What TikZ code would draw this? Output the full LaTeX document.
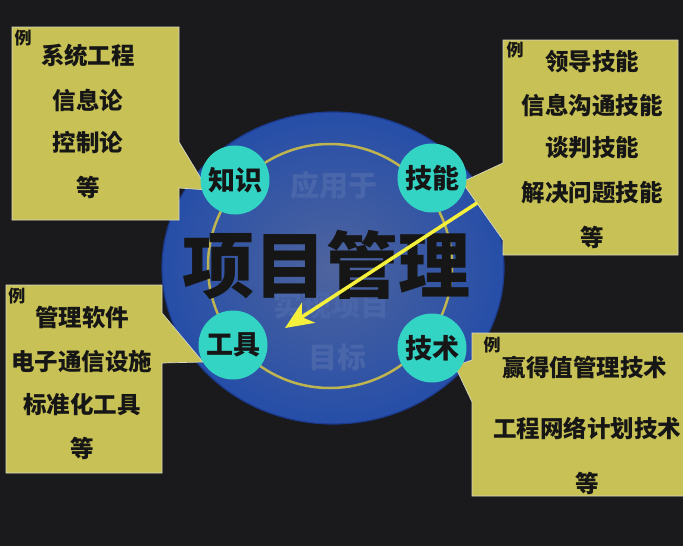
\documentclass[tikz,border=0pt]{standalone}
\usepackage{fontspec}
\newfontfamily\cjk{Noto Sans CJK SC}
\usetikzlibrary{arrows.meta}
\definecolor{bgc}{RGB}{26,26,28}
\definecolor{boxc}{RGB}{200,193,85}
\definecolor{boxline}{RGB}{215,215,195}
\definecolor{cyanc}{RGB}{52,212,196}
\definecolor{ringc}{RGB}{190,180,80}
\definecolor{ellin}{RGB}{78,100,158}
\definecolor{ellout}{RGB}{38,78,168}
\definecolor{ellrim}{RGB}{28,58,140}
\definecolor{faintc}{RGB}{74,102,170}
\definecolor{txtc}{RGB}{22,22,22}
\definecolor{arrowc}{RGB}{245,240,60}
\tikzset{
  callout/.style={fill=boxc, draw=boxline, line width=0.7pt},
  boxtext/.style={font=\cjk\bfseries\fontsize{23.5}{26}\selectfont, text=txtc, inner sep=0pt},
  litext/.style={font=\cjk\bfseries\fontsize{17}{18}\selectfont, text=txtc, inner sep=0pt},
  keycircle/.style={circle, fill=cyanc, minimum size=69pt, inner sep=0pt, font=\cjk\bfseries\fontsize{27}{28}\selectfont, text=txtc},
  fainttext/.style={font=\cjk\bfseries\fontsize{29}{30}\selectfont, text=faintc, inner sep=0pt},
}
\begin{document}
\begin{tikzpicture}[x=1pt,y=-1pt]
\fill[bgc] (0,0) rectangle (683,546);
\useasboundingbox (0,0) rectangle (683,546);
% central ellipse
\shade[inner color=ellin, outer color=ellout] (333,268) ellipse [x radius=171, y radius=156];
\draw[ellrim, line width=1.2pt] (333,268) ellipse [x radius=171, y radius=156];
\draw[ringc, line width=2.5pt] (330,266) circle [radius=122];
% faint texts
\node[fainttext] (f1) at (334,185) {应用于};
\node[fainttext] (f2) at (331,305) {实现项目};
\node[fainttext] (f3) at (337,357) {目标};
% big title
\node[font=\cjk\bfseries\fontsize{72}{74}\selectfont, text=txtc, inner sep=0pt] (title) at (326,265) {项目管理};
% callouts
\draw[callout] (12,27) -- (179,27) -- (179,142) -- (208,190) -- (179,188) -- (179,220) -- (12,220) -- cycle;
\draw[callout] (503,40) -- (678,40) -- (678,255) -- (503,255) -- (503,240) -- (462,182) -- (503,163) -- cycle;
\draw[callout] (6,285) -- (162,285) -- (162,313) -- (203,362) -- (162,363) -- (162,473) -- (6,473) -- cycle;
\draw[callout] (472,333) -- (690,333) -- (690,496) -- (472,496) -- (472,402) -- (455,366) -- (472,360) -- cycle;
% callout texts
\node[litext] (l1) at (23,38) {例};
\node[boxtext] (a1) at (88,56) {系统工程};
\node[boxtext] (a2) at (88,100) {信息论};
\node[boxtext] (a3) at (88,143) {控制论};
\node[boxtext] (a4) at (88,187) {等};
\node[litext] (l2) at (515,50) {例};
\node[boxtext] (b1) at (592,62) {领导技能};
\node[boxtext] (b2) at (592,105) {信息沟通技能};
\node[boxtext] (b3) at (592,148) {谈判技能};
\node[boxtext] (b4) at (592,193) {解决问题技能};
\node[boxtext] (b5) at (592,237) {等};
\node[litext] (l3) at (17,296) {例};
\node[boxtext] (c1) at (82,317) {管理软件};
\node[boxtext] (c2) at (82,362) {电子通信设施};
\node[boxtext] (c3) at (82,405) {标准化工具};
\node[boxtext] (c4) at (82,448) {等};
\node[litext] (l4) at (492,345) {例};
\node[boxtext] (d1) at (585,367) {赢得值管理技术};
\node[boxtext] (d2) at (587,428) {工程网络计划技术};
\node[boxtext] (d3) at (587,483) {等};
% key circles
\node[keycircle] (zs) at (235,180) {知识};
\node[keycircle] (jn) at (432,178) {技能};
\node[keycircle] (gj) at (233,345) {工具};
\node[keycircle] (js) at (432,348) {技术};
% arrow
\coordinate (arrS) at (477,203);
\coordinate (arrE) at (285,328);
\draw[arrowc, line width=3.5pt, -{Stealth[length=28pt, width=24pt, inset=8pt]}] (arrS) -- (arrE);
\end{tikzpicture}
\end{document}
